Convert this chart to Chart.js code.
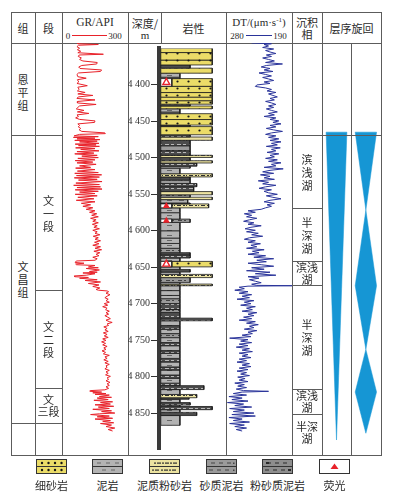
<!DOCTYPE html>
<html><head><meta charset="utf-8">
<script src="https://cdn.jsdelivr.net/npm/chart.js@4/dist/chart.umd.min.js"></script>
<style>
html,body{margin:0;padding:0;background:#fff}
#wrap{position:relative;width:394px;height:502px;overflow:hidden;font-family:"Noto Sans CJK SC","Noto Sans",sans-serif;color:#2b2b2b}
.ln{position:absolute;background:#5c5c5c}
.tx{position:absolute;font-size:11px;line-height:12px;text-align:center;white-space:nowrap;transform:translate(-50%,-50%)}
.sf{font-family:"Liberation Serif","DejaVu Serif",serif}
canvas.ch{position:absolute}
</style></head><body><div id="wrap"></div>
<script>
// ---------------- DATA ----------------
const depthTicks = [4400,4450,4500,4550,4600,4650,4700,4750,4800,4850];

// GR log: [depth m, GR API]
const grLog = [
[4350,70],[4351,72],[4352,165],[4353,75],[4355,68],[4357,80],[4359,70],[4361,85],[4363,72],[4365,188],
[4366,78],[4368,74],[4370,88],[4372,80],[4374,95],[4376,160],[4378,158],[4380,90],[4382,76],[4384,82],
[4386,180],[4388,175],[4390,75],[4392,68],[4395,72],[4397,110],[4399,70],[4402,76],[4404,68],[4407,115],
[4409,72],[4412,78],[4414,70],[4416,105],[4418,72],[4420,140],[4422,74],[4424,68],[4426,150],[4428,72],
[4430,70],[4432,155],[4434,80],[4436,72],[4438,65],[4440,100],[4442,70],[4444,122],[4446,68],[4448,75],
[4450,62],[4452,80],[4454,150],[4456,148],[4458,72],[4460,80],[4462,74],[4464,85],[4466,78],[4468,90],
[4470,195],[4471,197],[4472,80],
[4474,55],[4475,165],[4476,52],[4477,150],[4478,68],[4479,172],[4480,58],[4481,160],[4482,80],[4484,168],
[4485,60],[4486,155],[4487,75],[4488,170],[4490,62],[4491,150],[4492,85],[4494,168],[4495,68],[4497,145],
[4498,58],[4500,160],[4501,90],[4503,165],[4504,72],[4506,150],[4507,60],[4509,140],[4510,68],[4512,155],
[4514,80],[4516,130],[4517,62],[4519,150],[4521,70],[4523,165],[4524,58],[4526,180],[4527,66],[4529,170],
[4530,56],[4532,160],[4533,75],[4535,182],[4537,63],[4539,170],[4540,53],[4542,175],[4543,68],[4545,182],
[4546,60],[4548,165],[4549,80],[4551,150],[4552,60],[4554,160],[4556,72],[4558,145],[4560,65],[4562,150],
[4564,88],[4566,130],[4568,95],[4570,140],[4572,110],
[4574,150],[4576,125],[4578,158],[4580,135],[4582,165],[4584,130],[4586,155],[4588,140],[4590,165],[4592,138],
[4594,160],[4596,145],[4598,170],[4600,140],[4602,160],[4604,150],[4606,172],[4608,142],[4610,165],[4612,150],
[4614,175],[4616,148],[4618,168],[4620,140],[4622,175],[4624,150],[4626,180],[4628,145],[4630,172],[4632,155],
[4634,168],[4636,140],[4638,160],[4640,150],[4641,65],[4643,60],[4644,100],[4645,62],[4646,66],[4647,150],
[4649,120],[4650,165],[4651,110],[4653,170],[4655,125],[4656,160],[4657,95],[4658,150],[4660,110],[4661,55],
[4662,58],[4663,120],[4664,80],[4666,160],[4667,105],[4669,175],[4671,120],[4673,168],[4675,140],[4677,172],
[4679,155],[4680,165],
[4681,205],[4682,212],[4684,200],[4686,218],[4688,205],[4690,195],[4692,210],[4694,200],[4696,215],[4698,192],
[4700,208],[4702,185],[4704,205],[4706,198],[4708,215],[4710,200],[4712,212],[4714,195],[4716,208],[4718,220],
[4720,200],[4722,215],[4723,228],[4725,205],[4727,212],[4729,190],[4731,205],[4733,195],[4735,210],[4737,188],
[4739,205],[4741,192],[4743,210],[4745,185],[4747,200],[4749,180],[4751,198],[4753,185],[4755,205],[4757,190],
[4759,200],[4761,182],[4763,198],[4765,188],[4767,215],[4769,195],[4771,205],[4773,190],[4775,210],[4777,195],
[4779,215],[4781,200],[4783,205],[4785,195],[4787,215],[4789,200],[4791,210],[4793,198],[4795,220],[4797,205],
[4799,212],[4801,200],[4803,218],[4805,205],[4807,215],[4809,200],[4811,212],[4813,195],
[4814,130],[4815,128],[4816,180],[4817,140],[4818,200],[4819,150],[4820,215],[4822,170],[4823,225],[4824,160],
[4826,210],[4827,145],[4829,230],[4830,175],[4832,220],[4833,150],[4835,235],[4836,165],[4838,215],[4839,140],
[4841,225],[4842,180],[4844,240],[4845,170],[4846,130],[4848,215],[4849,160],[4851,230],[4852,150],[4854,220],
[4855,185],[4857,235],[4858,175],[4860,225],[4862,200],[4864,240],[4866,210],[4868,230]
];

// DT log: [depth m, DT μs/m]
const dtLog = [
[4350,245],[4351,218],[4352,228],[4354,222],[4356,230],[4358,215],[4360,226],[4362,220],[4364,212],[4366,225],
[4368,218],[4370,230],[4372,222],[4374,214],[4376,226],[4378,203],[4380,225],[4382,232],[4384,220],[4386,228],
[4388,216],[4390,235],[4392,226],[4394,218],[4396,230],[4398,222],[4400,215],[4402,228],[4404,220],[4406,238],
[4408,240],[4410,226],[4412,218],[4414,224],[4416,212],[4418,222],[4420,216],[4422,210],[4424,220],[4426,214],
[4428,226],[4430,218],[4432,212],[4434,222],[4436,215],[4438,225],[4440,218],[4442,210],[4444,222],[4446,214],
[4448,228],[4450,212],[4452,220],[4454,208],[4456,216],[4458,205],[4460,220],[4462,212],[4464,225],[4466,215],
[4468,203],[4470,218],
[4472,226],[4474,212],[4476,222],[4478,208],[4480,220],[4482,205],[4484,218],[4486,210],[4488,225],[4490,206],
[4492,218],[4494,212],[4496,224],[4498,208],[4500,220],[4502,214],[4504,226],[4506,210],[4508,222],[4510,205],
[4512,218],[4514,212],[4516,228],[4518,202],[4520,220],[4522,230],[4524,215],[4526,233],[4528,220],[4530,228],
[4532,214],[4534,236],[4536,222],[4538,230],[4540,212],[4542,226],[4544,235],[4546,218],[4548,228],[4550,222],
[4552,210],[4554,225],[4556,216],[4558,205],[4560,220],[4562,228],[4564,214],[4566,224],[4568,218],[4570,226],
[4572,232],[4574,250],[4576,240],[4578,255],[4580,245],[4582,252],[4584,238],[4586,248],[4588,256],[4590,242],
[4592,250],[4594,232],[4596,246],[4598,254],[4600,240],[4602,252],[4604,236],[4606,245],[4608,230],[4610,248],
[4612,255],[4614,240],[4616,250],[4618,233],[4620,246],[4622,238],[4624,252],[4626,228],[4628,244],[4630,235],
[4632,250],[4634,226],[4636,242],[4638,215],[4640,238],[4642,225],[4644,250],[4646,232],[4648,215],[4650,245],
[4652,228],[4654,252],[4656,220],[4658,240],[4660,212],[4662,250],[4664,235],[4666,248],[4668,240],[4670,232],
[4672,245],[4673.5,238],[4674,190],[4674.6,250],
[4676,262],[4678,255],[4680,268],[4682,250],[4684,262],[4686,245],[4688,258],[4690,248],[4692,265],[4694,242],
[4696,255],[4698,246],[4700,260],[4702,240],[4704,252],[4706,244],[4708,258],[4710,238],[4712,250],[4714,242],
[4716,256],[4718,245],[4720,262],[4722,240],[4724,252],[4726,236],[4728,248],[4730,242],[4732,255],[4734,238],
[4736,250],[4738,244],[4740,258],[4742,246],[4744,275],[4746,250],[4748,260],[4750,245],[4752,262],[4754,250],
[4756,266],[4758,248],[4760,258],[4762,244],[4764,262],[4766,250],[4768,258],[4770,246],[4772,262],[4774,252],
[4776,265],[4778,248],[4780,258],[4782,246],[4784,262],[4786,250],[4788,265],[4790,252],[4792,260],[4794,248],
[4796,264],[4798,254],[4800,262],[4802,250],[4804,268],[4806,255],[4808,264],[4810,252],[4812,266],[4814,256],
[4815,222],[4816,258],
[4818,270],[4820,252],[4822,276],[4824,258],[4826,272],[4828,250],[4830,278],[4832,256],[4834,268],[4836,245],
[4838,275],[4840,255],[4842,270],[4844,242],[4846,272],[4848,240],[4850,276],[4852,258],[4854,270],[4856,248],
[4858,275],[4860,255],[4862,268],[4864,252],[4866,266],[4868,258]
];

// lithology layers: [top m, base m, lithology, grain-size index]
const layers = [
[4350,4355.7,'sand',8.6],[4355.7,4366,'sand',8.6],[4366,4372.7,'sand',8.6],[4372.7,4377.1,'siltmud',4.9],
[4377.1,4384,'sand',8.6],[4384,4389.5,'mud',3.2],[4389.5,4391.4,'smud',3.2],[4391.4,4402,'sand',8.6],
[4402,4410.5,'sand',8.6],[4410.5,4416.8,'sand',8.6],[4416.8,4421.7,'sand',8.6],[4421.7,4426.5,'sand',8.6],
[4426.5,4429,'siltmud',4.9],[4429,4432.8,'sand',8.6],[4432.8,4437.2,'mud',3.2],[4437.2,4439.5,'smud',3.2],
[4439.5,4447.5,'sand',8.6],[4447.5,4455.1,'sand',8.6],[4455.1,4457.2,'siltmud',4.9],[4457.2,4468.4,'sand',8.6],
[4468.4,4471.5,'siltmud',4.9],[4471.5,4476,'msilt',8.6],[4476,4483.5,'siltmud',4.9],[4483.5,4490.2,'smud',4.9],
[4490.2,4496.5,'siltmud',4.9],[4496.5,4499.5,'msilt',8.6],[4499.5,4504,'siltmud',4.9],[4504,4507.1,'msilt',8.6],
[4507.1,4511.5,'siltmud',6],[4511.5,4514.2,'smud',4.9],[4514.2,4521.8,'mud',3.2],[4521.8,4526.2,'msilt',8.6],
[4526.2,4530.6,'siltmud',4.9],[4530.6,4535.2,'smud',4.9],[4535.2,4539.6,'siltmud',6],[4539.6,4546.3,'siltmud',5.5],
[4546.3,4550.7,'msilt',8.6],[4550.7,4554,'smud',4.9],[4554,4557.3,'msilt',8.6],[4557.3,4561.9,'mud',4.5],
[4561.9,4563.2,'siltmud',4.9],[4563.2,4568.6,'msilt',8],[4568.6,4575.2,'mud',3.2],[4575.2,4584,'mud',3.2],
[4584,4588.6,'smud',4.9],[4588.6,4600,'mud',3.2],[4600,4610,'mud',3.2],[4610,4617.4,'mud',3.2],
[4617.4,4624,'mud',3.2],[4624,4630,'smud',3.2],[4630,4633,'siltmud',4.9],[4633,4637.4,'siltmud',4.9],
[4637.4,4642,'mud',3.2],[4642,4649.5,'sand',8.6],[4649.5,4653,'mud',3.2],[4653,4656.7,'siltmud',4.9],
[4656.7,4659.8,'mud',3.2],[4659.8,4664.2,'msilt',8.6],[4664.2,4670.8,'smud',4.9],[4670.8,4673.1,'mud',3.2],
[4673.1,4675.4,'msilt',8.6],[4675.4,4682,'mud',3.2],[4682,4688.7,'mud',3.2],[4688.7,4693.1,'mud',3.2],
[4693.1,4699.8,'smud',3.2],[4699.8,4708,'siltmud',3.2],[4708,4712,'smud',3.2],[4712,4719.8,'siltmud',3.2],
[4719.8,4723.4,'siltmud',8.6],[4723.4,4730,'mud',3.2],[4730,4735,'siltmud',3.2],[4735,4741,'mud',3.2],
[4741,4746.5,'smud',3.2],[4746.5,4753.2,'mud',3.2],[4753.2,4757.6,'siltmud',3.2],[4757.6,4764.3,'mud',3.2],
[4764.3,4768,'siltmud',3.2],[4768,4775,'mud',3.2],[4775,4779.9,'siltmud',3.2],[4779.9,4786.6,'mud',3.2],
[4786.6,4791,'siltmud',3.2],[4791,4797.7,'mud',3.2],[4797.7,4802.2,'siltmud',3.2],[4802.2,4808.9,'mud',3.2],
[4808.9,4812.3,'siltmud',3.2],[4812.3,4817.7,'siltmud',7.2],[4817.7,4824.4,'mud',3.2],[4824.4,4828.9,'msilt',6],
[4828.9,4831,'siltmud',4.7],[4831,4835.6,'mud',3.2],[4835.6,4839,'siltmud',4.9],[4839,4840.9,'mud',3.2],
[4840.9,4845.3,'siltmud',8.6],[4845.3,4848.9,'mud',3.2],[4848.9,4853.3,'siltmud',6],[4853.3,4866.7,'mud',3.2]
];

// fluorescence intervals
const fluorTop  = [4391.4, 4563.2, 4584, 4642];
const fluorBase = [4402, 4568.6, 4588.6, 4649.5];

// stratigraphy
const formations = ['恩平组','文昌组'];
const formationTop = [4350, 4469];
const formationBase = [4469, 4863];
const members = ['', '文一段', '文二段', '文三段'];
const memberTop = [4350, 4469, 4681, 4816];
const memberBase = [4469, 4681, 4816, 4863];
const facies = ['滨浅湖','半深湖','滨浅湖','半深湖','滨浅湖','半深湖'];
const faciesTop = [4469, 4569.4, 4642, 4674.4, 4816.3, 4851];
const faciesBase = [4569.4, 4642, 4674.4, 4816.3, 4851, 4900];

// sequence cycles (relative width at each depth)
const longCycleDepth = [4469, 4880];
const longCycleWidth = [1, 0];
const shortCycleDepth = [4469, 4573, 4674, 4759, 4816, 4871];
const shortCycleWidth = [1, 0, 1, 0, 1, 0];

const legendNames = ['细砂岩','泥岩','泥质粉砂岩','砂质泥岩','粉砂质泥岩','荧光'];
const legendTypes = ['sand','mud','msilt','smud','siltmud','fluor'];

// ---------------- LAYOUT / STYLE ----------------
const DMIN = 4350, DMAX = 4900, TOP = 43, H = 412;
const LITH = {
  sand:{bg:'#ebdc68', fg:'#151515'},
  mud:{bg:'#b3b3b3', fg:'#666'},
  msilt:{bg:'#ece3a0', fg:'#2e2e2e'},
  smud:{bg:'#9a9a9a', fg:'#444'},
  siltmud:{bg:'#4c4c4c', fg:'#b8b8b8'}
};
const RED = '#e8222a', BLUE = '#2a349a', CYC = '#1696d4';

const wrap = document.getElementById('wrap');
function el(tag, cls, css, html){const e=document.createElement(tag); if(cls)e.className=cls; Object.assign(e.style,css||{}); if(html!=null)e.innerHTML=html; wrap.appendChild(e); return e;}
function hl(x1,x2,y){el('div','ln',{left:x1+'px',top:Math.round(y)+'px',width:(x2-x1+1)+'px',height:'1px'});}
function vl(x,y1,y2){el('div','ln',{left:x+'px',top:Math.round(y1)+'px',width:'1px',height:(Math.round(y2)-Math.round(y1)+1)+'px'});}
function label(x,y,html,extra){return el('div','tx',Object.assign({left:x+'px',top:y+'px'},extra||{}),html);}
function canvas(left,top,w,h){const c=el('canvas','ch',{left:left+'px',top:top+'px',width:w+'px',height:h+'px'}); c.width=w; c.height=h; return c;}

// frame
hl(11,381,12); hl(11,381,TOP); hl(11,381,455);
[11,35,62,128,226,292,322,381].forEach(x=>vl(x,12,455));
vl(161,12,TOP); vl(351,TOP,455);

// header
label(23,28,'组'); label(48.5,28,'段');
label(95,22,'GR/API',{fontFamily:'"Liberation Serif",serif',fontSize:'11.5px'});
label(68,35.5,'0',{fontFamily:'"Liberation Serif",serif',fontSize:'9px'});
el('div',null,{position:'absolute',left:'72px',top:'35px',width:'35px',height:'1px',background:RED});
label(115,35.5,'300',{fontFamily:'"Liberation Serif",serif',fontSize:'9px'});
label(145,23,'深度/'); label(145,34.5,'m',{fontFamily:'"Liberation Serif",serif'});
label(193.5,28,'岩性');
label(259,22,'DT/(μm·s<sup style="font-size:7px;line-height:0;vertical-align:4px">-1</sup>)',{fontFamily:'"Liberation Serif",serif',fontSize:'11px'});
label(237,35.5,'280',{fontFamily:'"Liberation Serif",serif',fontSize:'9px'});
el('div',null,{position:'absolute',left:'246px',top:'35px',width:'26px',height:'1px',background:BLUE});
label(280,35.5,'190',{fontFamily:'"Liberation Serif",serif',fontSize:'9px'});
label(307,22,'沉积'); label(307,34,'相');
label(351.5,28,'层序旋回');

// patterns
function pattern(type){
  const c=document.createElement('canvas'); const g=c.getContext('2d'); const s=LITH[type];
  let w=12,h=5;
  if(type==='sand'){w=11;h=7;} if(type==='siltmud'){h=4;}
  c.width=w;c.height=h; g.fillStyle=s.bg; g.fillRect(0,0,w,h); g.fillStyle=s.fg;
  if(type==='sand'){g.beginPath(); g.arc(5.5,3.5,1.1,0,Math.PI*2); g.fill();}
  else if(type==='mud'){g.fillRect(3,2,5,1);}
  else if(type==='msilt'){g.fillRect(1,2,4,1); g.fillRect(7,2,2,1); g.fillRect(10,2,1,1);}
  else if(type==='smud'){g.fillRect(2,2,4,1); g.fillRect(8,2,2,1);}
  else {g.fillRect(1,1,4,1); g.fillRect(7,1,3,1);}
  return g.createPattern(c,'repeat');
}
const PAT = {}; Object.keys(LITH).forEach(k=>PAT[k]=pattern(k));

const base = {responsive:false, animation:false, events:[], devicePixelRatio:1,
  layout:{padding:0}, plugins:{legend:{display:false}, tooltip:{enabled:false}}};
const yHidden = {type:'linear', min:DMIN, max:DMAX, reverse:true, display:false};

// GR chart
new Chart(canvas(62,TOP,66,H), {type:'line',
  data:{datasets:[{data:grLog.map(([d,v])=>({x:v,y:d})), borderColor:RED, borderWidth:1, pointRadius:0, fill:false, tension:0}]},
  options:Object.assign({}, base, {scales:{x:{type:'linear',min:0,max:300,display:false}, y:yHidden}})});

// DT chart
new Chart(canvas(226,TOP,66,H), {type:'line',
  data:{datasets:[{data:dtLog.map(([d,v])=>({x:v,y:d})), borderColor:BLUE, borderWidth:1, pointRadius:0, fill:false, tension:0}]},
  options:Object.assign({}, base, {scales:{x:{type:'linear',min:190,max:280,reverse:true,display:false}, y:yHidden}})});

// Lithology + depth chart
function rect(x0,x1,t,b){return [{x:x0,y:t},{x:x1,y:t},{x:x1,y:b},{x:x0,y:b},{x:x0,y:t}];}
const FW = 1.85;
const lithoSets = layers.map(([t,b,k,w])=>({data:rect(0,w,t,b), fill:'shape', backgroundColor:PAT[k],
  borderColor:'#1c1c1c', borderWidth:0.8, pointRadius:0, tension:0, order:2}));
fluorTop.forEach((t,i)=>{
  const b=fluorBase[i];
  lithoSets.push({data:rect(0,FW,t,b), fill:'shape', backgroundColor:'#fff', borderColor:'#1c1c1c', borderWidth:0.8, pointRadius:0, order:1});
  const big = (b-t)>6;
  lithoSets.push({data:[{x:FW/2,y:(t+b)/2}], showLine:false, pointStyle:'triangle', pointRadius:big?4:2.6,
    pointBackgroundColor:big?'#fff':RED, pointBorderColor:RED, pointBorderWidth:1.4, order:0});
});
const lithoChart = new Chart(canvas(128,TOP,98,H), {type:'line', data:{datasets:lithoSets},
  options:Object.assign({}, base, {scales:{
    x:{type:'linear',min:-0.3,max:10,display:false},
    y:{type:'linear',min:DMIN,max:DMAX,reverse:true,position:'left',
       afterFit(s){s.width=31; s.paddingTop=0; s.paddingBottom=0;},
       afterBuildTicks(s){s.ticks=depthTicks.map(v=>({value:v}));},
       ticks:{autoSkip:false, padding:1, color:'#333', font:{family:'Liberation Serif', size:10},
         callback:v=>String(v).replace(/^(\d)(\d{3})$/,'$1 $2')},
       grid:{drawOnChartArea:false, drawTicks:true, tickLength:8, color:'#333', lineWidth:1},
       border:{display:true, color:'#3a3a3a', width:4, dash:[2.4,1.3]}}
  }})});

const Y = d => TOP + lithoChart.scales.y.getPixelForValue(d);

// Sequence chart (facies column + two cycle columns share one depth scale)
function cyclePoly(depths, widths, center, half){
  const r = depths.map((d,i)=>({x:center+half*widths[i], y:d}));
  const l = depths.map((d,i)=>({x:center-half*widths[i], y:d})).reverse();
  return r.concat(l,[r[0]]);
}
new Chart(canvas(292,TOP,89,H), {type:'line', data:{datasets:[
  {data:cyclePoly(longCycleDepth,longCycleWidth,1.5,0.35), fill:'shape', backgroundColor:CYC, borderColor:CYC, borderWidth:0.5, pointRadius:0},
  {data:cyclePoly(shortCycleDepth,shortCycleWidth,2.49,0.36), fill:'shape', backgroundColor:CYC, borderColor:CYC, borderWidth:0.5, pointRadius:0}
]}, options:Object.assign({}, base, {scales:{x:{type:'linear',min:0,max:3,display:false}, y:yHidden}})});

// stratigraphic cells
function vtext(x,t,b,name){
  const hgt = Y(b)-Y(t);
  let html;
  if(hgt>=42) html = name.split('').join('<br>');
  else html = name.slice(0,name.length-1)+'<br>'+name.slice(name.length-1);
  if(name==='文三段') html='文<br>三段';
  label(x,(Y(t)+Math.min(Y(b),455))/2,html,{lineHeight:hgt>=42?'13px':'12px'});
}
formations.forEach((n,i)=>{ hl(11,35,Y(formationBase[i])); vtext(23,formationTop[i],formationBase[i],n); });
members.forEach((n,i)=>{ hl(35,62,Y(memberBase[i])); if(n) vtext(48.5,memberTop[i],memberBase[i],n); });
hl(292,381,Y(faciesTop[0]));
facies.forEach((n,i)=>{ if(faciesBase[i]<DMAX) hl(292,322,Y(faciesBase[i])); vtext(307,faciesTop[i],faciesBase[i],n); });

// legend
const legendX = [36,92,149,206,262,319];
legendTypes.forEach((k,i)=>{
  const c = canvas(legendX[i],459,31,15); const g=c.getContext('2d');
  if(k==='fluor'){
    g.fillStyle='#fff'; g.fillRect(0,0,31,15);
    g.strokeStyle=RED; g.fillStyle=RED; g.lineWidth=1.3;
    g.beginPath(); g.moveTo(15.5,4.5); g.lineTo(19.5,10); g.lineTo(11.5,10); g.closePath(); g.fill();
  } else {
    const s=LITH[k]; g.fillStyle = k==='siltmud' ? '#8e8e8e' : s.bg; g.fillRect(0,0,31,15);
    g.fillStyle = k==='siltmud' ? '#2a2a2a' : s.fg;
    [4,11].forEach((y,r)=>{
      if(k==='sand'){[6,12.5,19,25.5].forEach(x=>{g.beginPath();g.arc(x,y,1.2,0,Math.PI*2);g.fill();});}
      else if(k==='mud'){(r?[10,19]:[5,14,23]).forEach(x=>g.fillRect(x,y-0.5,4,1));}
      else if(k==='msilt'){(r?[3,12,20]:[5,13,21]).forEach(x=>{g.fillRect(x,y-0.5,2,1.2);g.fillRect(x+3,y-0.5,4,1.2);});}
      else if(k==='smud'){(r?[3,11,19]:[5,13,21]).forEach(x=>g.fillRect(x,y-0.5,4,1)); g.fillRect(r?27:27,y-0.5,1.5,1.5);}
      else {(r?[3,11,19]:[5,13,21]).forEach(x=>g.fillRect(x,y-0.5,4,1)); g.fillRect(r?26:4,y-1,3,2);}
    });
    g.fillStyle='#333'; g.fillRect(0,7,31,1);
  }
  g.strokeStyle='#333'; g.lineWidth=1; g.strokeRect(0.5,0.5,30,14);
  label(legendX[i]+15.5,485,legendNames[i]);
});
</script></body></html>
